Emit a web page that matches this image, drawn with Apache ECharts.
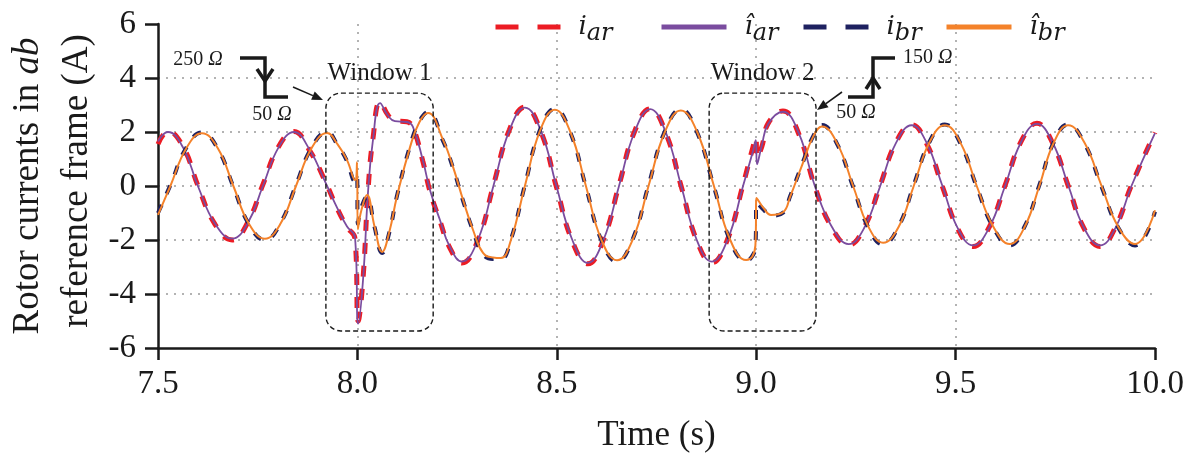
<!DOCTYPE html>
<html>
<head>
<meta charset="utf-8">
<script src="https://cdn.jsdelivr.net/npm/echarts@6/dist/echarts.min.js"></script>
<style>
  html, body { margin: 0; padding: 0; background: #ffffff; }
  #chart { width: 1202px; height: 464px; }
</style>
</head>
<body>
<div id="chart"></div>
<script>
// Rotor current, phase a: sample times (s) and values (A)
const aTime = [
  7.500, 7.525, 7.563, 7.600, 7.643, 7.686, 7.725, 7.763, 7.802, 7.841,
  7.880, 7.921, 7.949, 7.974, 7.994, 8.002, 8.014, 8.027, 8.039, 8.057,
  8.077, 8.094, 8.124, 8.139, 8.164, 8.182, 8.207, 8.232, 8.262, 8.302,
  8.341, 8.381, 8.420, 8.460, 8.499, 8.539, 8.578, 8.617, 8.656, 8.695,
  8.734, 8.773, 8.812, 8.851, 8.889, 8.928, 8.967, 8.992, 8.999, 9.002,
  9.014, 9.030, 9.067, 9.107, 9.147, 9.190, 9.232, 9.272, 9.311, 9.350,
  9.390, 9.428, 9.467, 9.505, 9.544, 9.584, 9.624, 9.664, 9.704, 9.743,
  9.783, 9.822, 9.862, 9.901, 9.941, 10.000
];
// measured i_ar
const iarMeasured = [
  1.55, 2.02, 1.45, 0.02, -1.42, -2.00, -1.35, 0.05, 1.45, 2.02,
  1.32, 0.12, -0.82, -1.52, -1.95, -5.00, -3.45, -0.10, 1.75, 3.12,
  2.62, 2.42, 2.38, 2.18, 0.92, -0.20, -1.30, -2.30, -2.85, -2.02,
  0.02, 2.08, 2.92, 2.02, -0.03, -2.05, -2.88, -1.98, 0.03, 2.02,
  2.86, 1.98, -0.02, -2.02, -2.84, -1.98, 0.05, 1.45, 1.80, 1.05,
  1.45, 2.32, 2.78, 1.92, -0.02, -1.55, -2.18, -1.50, 0.03, 1.60,
  2.27, 1.55, -0.02, -1.57, -2.24, -1.53, 0.02, 1.64, 2.32, 1.60,
  -0.02, -1.57, -2.24, -1.52, 0.03, 1.98
];
// estimated î_ar
const iarEstimated = [
  1.65, 2.00, 1.42, 0.00, -1.40, -1.95, -1.38, 0.00, 1.42, 2.00,
  1.35, 0.10, -0.80, -1.50, -1.90, -5.10, -3.50, -0.15, 1.70, 3.07,
  2.60, 2.40, 2.37, 2.20, 0.96, -0.15, -1.26, -2.26, -2.80, -2.00,
  0.00, 2.05, 2.90, 2.05, 0.00, -2.00, -2.85, -2.00, 0.00, 2.00,
  2.85, 2.00, 0.00, -2.00, -2.80, -2.00, 0.00, 1.30, 1.70, 0.80,
  1.50, 2.30, 2.75, 1.95, 0.00, -1.52, -2.15, -1.52, 0.00, 1.58,
  2.25, 1.58, 0.00, -1.55, -2.20, -1.55, 0.00, 1.62, 2.30, 1.62,
  0.00, -1.55, -2.20, -1.55, 0.00, 1.96
];

// Rotor current, phase b: sample times (s) and values (A)
const bTime = [
  7.500, 7.531, 7.571, 7.610, 7.650, 7.689, 7.728, 7.768, 7.807, 7.846,
  7.885, 7.924, 7.950, 7.974, 7.994, 7.999, 8.001, 8.010, 8.024, 8.043,
  8.062, 8.080, 8.099, 8.132, 8.155, 8.177, 8.215, 8.240, 8.265, 8.290,
  8.315, 8.340, 8.360, 8.385, 8.420, 8.458, 8.495, 8.534, 8.573, 8.612,
  8.651, 8.690, 8.730, 8.771, 8.811, 8.852, 8.894, 8.935, 8.975, 8.990,
  8.998, 9.001, 9.020, 9.037, 9.068, 9.085, 9.117, 9.142, 9.165, 9.204,
  9.243, 9.281, 9.318, 9.357, 9.395, 9.434, 9.473, 9.513, 9.553, 9.595,
  9.636, 9.673, 9.710, 9.746, 9.782, 9.824, 9.866, 9.908, 9.950, 10.000
];
// measured i_br
const ibrMeasured = [
  -1.00, 0.03, 1.42, 1.98, 1.38, -0.03, -1.42, -2.00, -1.38, 0.03,
  1.42, 2.00, 1.52, 0.92, 0.18, 0.40, -1.40, -0.80, -0.40, -1.52,
  -2.48, -1.72, -0.38, 1.48, 2.38, 2.74, 1.66, 0.66, -0.55, -1.66,
  -2.52, -2.70, -2.70, -1.98, 0.03, 2.08, 2.86, 1.98, -0.03, -2.02,
  -2.80, -1.98, 0.03, 2.03, 2.84, 1.98, -0.03, -2.03, -2.78, -2.60,
  -2.25, -0.60, -0.90, -1.10, -0.98, -0.38, 0.88, 1.82, 2.26, 1.52,
  -0.03, -1.53, -2.16, -1.50, 0.03, 1.62, 2.28, 1.55, -0.03, -1.55,
  -2.20, -1.50, 0.03, 1.62, 2.28, 1.55, -0.03, -1.55, -2.20, -0.95
];
// estimated î_br
const ibrEstimated = [
  -1.07, 0.00, 1.40, 1.95, 1.40, 0.00, -1.40, -1.95, -1.40, 0.00,
  1.40, 1.96, 1.55, 0.96, 0.22, 0.88, -1.60, -0.90, -0.33, -1.50,
  -2.44, -1.70, -0.40, 1.44, 2.35, 2.70, 1.70, 0.70, -0.52, -1.63,
  -2.48, -2.65, -2.67, -2.00, 0.00, 2.05, 2.82, 2.00, 0.00, -2.00,
  -2.75, -2.00, 0.00, 2.00, 2.80, 2.00, 0.00, -2.00, -2.74, -2.62,
  -2.20, -0.44, -0.85, -1.07, -0.96, -0.40, 0.85, 1.80, 2.20, 1.55,
  0.00, -1.50, -2.10, -1.52, 0.00, 1.60, 2.25, 1.58, 0.00, -1.52,
  -2.15, -1.52, 0.00, 1.60, 2.25, 1.58, 0.00, -1.52, -2.15, -0.90
];

// Axis ticks
const xTicks = { min: 7.5, max: 10.0, step: 0.5 };
const yTicks = { min: -6, max: 6, step: 2 };

// Highlighted time windows (s) and their vertical span (A)
const windows = [
  { label: 'Window 1', t0: 7.921, t1: 8.190, vTop: 3.44, vBottom: -5.37 },
  { label: 'Window 2', t0: 8.882, t1: 9.150, vTop: 3.44, vBottom: -5.37 }
];

const RED = '#ec1c24';
const PURPLE = '#7a4c9f';
const NAVY = '#1e2160';
const ORANGE = '#f4822a';
const INK = '#1a1a1a';
const SERIF = 'Liberation Serif';
const MATH = 'DejaVu Serif';

const pairs = (t, v) => t.map((x, i) => [x, v[i]]);

const names = ['i_ar', 'î_ar', 'i_br', 'î_br'];
const legendText = {
  'i_ar': '{v|i}{s|ar}',
  'î_ar': '{v|î}{s|ar}',
  'i_br': '{v|i}{s|br}',
  'î_br': '{v|î}{s|br}'
};
const legendLeft = [493, 659, 801, 944];
const legendLine = [
  { color: RED, width: 5, type: [23, 19] },
  { color: PURPLE, width: 5, type: 'solid' },
  { color: NAVY, width: 5, type: [23, 19] },
  { color: ORANGE, width: 5, type: 'solid' }
];

function lineSeries(name, data, style, z) {
  return {
    name: name,
    type: 'line',
    data: data,
    symbol: 'none',
    smooth: 0.45,
    z: z,
    lineStyle: style,
    itemStyle: { color: style.color },
    emphasis: { disabled: true }
  };
}

const option = {
  animation: false,
  backgroundColor: '#ffffff',
  textStyle: { fontFamily: SERIF, color: INK },
  grid: { left: 158, right: 47, top: 24, bottom: 116 },
  legend: names.map((n, i) => ({
    data: [n],
    left: legendLeft[i],
    top: 14,
    padding: 0,
    itemWidth: 65,
    itemHeight: 14,
    selectedMode: false,
    lineStyle: legendLine[i],
    itemStyle: { opacity: 0 },
    formatter: (name) => legendText[name],
    textStyle: {
      color: INK,
      fontFamily: MATH,
      fontStyle: 'italic',
      fontSize: 26,
      rich: {
        v: { fontFamily: MATH, fontStyle: 'italic', fontSize: 26, color: INK, padding: [0, 0, 0, 13] },
        s: { fontFamily: MATH, fontStyle: 'italic', fontSize: 24, color: INK, padding: [14, 0, 0, 0] }
      }
    }
  })),
  xAxis: {
    type: 'value',
    min: xTicks.min,
    max: xTicks.max,
    interval: xTicks.step,
    name: 'Time (s)',
    nameLocation: 'middle',
    nameGap: 70,
    nameTextStyle: { fontFamily: SERIF, fontSize: 35, color: INK },
    axisLine: { onZero: false, lineStyle: { color: INK, width: 2.5 } },
    axisTick: { show: true, length: 12, lineStyle: { color: INK, width: 2.5 } },
    axisLabel: {
      formatter: (v) => v.toFixed(1),
      fontFamily: SERIF, fontSize: 33, color: INK, margin: 20
    },
    splitLine: {
      show: true, showMinLine: false, showMaxLine: false,
      lineStyle: { color: '#9a9a9a', width: 1.5, type: [2, 6] }
    }
  },
  yAxis: {
    type: 'value',
    min: yTicks.min,
    max: yTicks.max,
    interval: yTicks.step,
    axisLine: { onZero: false, lineStyle: { color: INK, width: 2.5 } },
    axisTick: { show: true, length: 13, lineStyle: { color: INK, width: 2.5 } },
    axisLabel: { fontFamily: SERIF, fontSize: 33, color: INK, margin: 22 },
    splitLine: {
      show: true, showMinLine: false, showMaxLine: false,
      lineStyle: { color: '#9a9a9a', width: 1.5, type: [2, 6] }
    }
  },
  series: [
    lineSeries('i_ar', pairs(aTime, iarMeasured), { color: RED, width: 5, type: [11, 12] }, 2),
    lineSeries('î_ar', pairs(aTime, iarEstimated), { color: PURPLE, width: 1.8, type: 'solid' }, 3),
    lineSeries('i_br', pairs(bTime, ibrMeasured), { color: NAVY, width: 4, type: [9, 12] }, 4),
    lineSeries('î_br', pairs(bTime, ibrEstimated), { color: ORANGE, width: 2, type: 'solid' }, 5)
  ]
};

const chart = echarts.init(document.getElementById('chart'), null, { renderer: 'canvas' });
chart.setOption(option);

const px = (t, v) => chart.convertToPixel({ gridIndex: 0 }, [t, v]);

function arrow(x0, y0, x1, y1) {
  const dx = x1 - x0, dy = y1 - y0, L = Math.hypot(dx, dy);
  const ux = dx / L, uy = dy / L, hl = 11, hw = 4.5;
  const bx = x1 - ux * hl, by = y1 - uy * hl;
  return [
    { type: 'line', shape: { x1: x0, y1: y0, x2: bx, y2: by }, style: { stroke: INK, lineWidth: 1.6 }, z: 60 },
    { type: 'polygon', shape: { points: [[x1, y1], [bx - uy * hw, by + ux * hw], [bx + uy * hw, by - ux * hw]] }, style: { fill: INK }, z: 60 }
  ];
}

function label(x, y, text, size, align) {
  return {
    type: 'text', x: x, y: y, z: 60,
    style: {
      text: text, align: align || 'center', verticalAlign: 'middle',
      fill: INK, fontFamily: SERIF, fontSize: size,
      rich: {
        n: { fontFamily: SERIF, fontSize: size, fill: INK },
        o: { fontFamily: SERIF, fontSize: size, fontStyle: 'italic', fill: INK }
      }
    }
  };
}

function step(points) {
  return { type: 'polyline', shape: { points: points }, style: { stroke: INK, lineWidth: 3.5, fill: 'none' }, z: 60 };
}

const graphics = [];

// dashed windows
windows.forEach((w) => {
  const p0 = px(w.t0, w.vTop), p1 = px(w.t1, w.vBottom);
  graphics.push({
    type: 'rect', z: 50,
    shape: { x: p0[0], y: p0[1], width: p1[0] - p0[0], height: p1[1] - p0[1], r: 15 },
    style: { fill: 'none', stroke: INK, lineWidth: 1.4, lineDash: [5, 3] }
  });
  graphics.push(label((p0[0] + p1[0]) / 2, p0[1] - 20, '{n|' + w.label + '}', 25));
});

// load step 250 Ω -> 50 Ω
graphics.push(step([[240, 58], [265, 58], [265, 97], [288, 97]]));
graphics.push(step([[257, 69], [265, 81], [273, 69]]));
graphics.push(label(198, 60, '{n|250 }{o|Ω}', 20));
graphics.push(label(272, 115, '{n|50 }{o|Ω}', 20));
graphics.push(...arrow(293, 87, 323, 100));

// load step 50 Ω -> 150 Ω
graphics.push(step([[848, 97], [873, 97], [873, 58], [895, 58]]));
graphics.push(step([[866, 89], [873, 78], [880, 89]]));
graphics.push(label(903, 58, '{n|150 }{o|Ω}', 20, 'left'));
graphics.push(label(856, 113, '{n|50 }{o|Ω}', 20));
graphics.push(...arrow(842, 92, 817, 110));

// y-axis title, two rotated lines
const titleRich = {
  n: { fontFamily: SERIF, fontSize: 37, fill: INK },
  it: { fontFamily: SERIF, fontSize: 37, fontStyle: 'italic', fill: INK }
};
graphics.push({
  type: 'text', x: 28, y: 186, rotation: Math.PI / 2, z: 60,
  style: { text: '{n|Rotor currents in }{it|ab}', align: 'center', verticalAlign: 'middle',
           fontFamily: SERIF, fontSize: 37, fill: INK, rich: titleRich }
});
graphics.push({
  type: 'text', x: 77, y: 181, rotation: Math.PI / 2, z: 60,
  style: { text: '{n|reference frame (A)}', align: 'center', verticalAlign: 'middle',
           fontFamily: SERIF, fontSize: 37, fill: INK, rich: titleRich }
});

chart.setOption({ graphic: graphics });
</script>
</body>
</html>
